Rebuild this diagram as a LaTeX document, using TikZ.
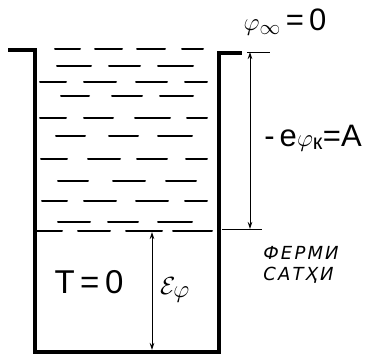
\documentclass[tikz,border=0pt]{standalone}
\usepackage{amsmath}
\usepackage{fontspec}
\setmainfont{Liberation Sans}
\newfontfamily\cyrfont[LetterSpace=12]{DejaVu Sans}
\usetikzlibrary{arrows.meta}
\tikzset{
  wall/.style={line width=4.5pt, line join=miter, line cap=butt},
  elec/.style={line width=2pt, line cap=round},
  tick/.style={line width=1pt},
  dim/.style={line width=0.9pt, {Stealth[length=7pt,width=4.5pt]}-{Stealth[length=7pt,width=4.5pt]}},
  lbl/.style={inner sep=0pt, font=\fontsize{31}{33}\selectfont},
}
\begin{document}
\begin{tikzpicture}[x=1pt,y=-1pt]
\useasboundingbox (0,0) rectangle (372,356);
% well
\coordinate (lipL) at (8,50);
\coordinate (wallTL) at (35,50);
\coordinate (wallBL) at (35,352);
\coordinate (wallBR) at (219,352);
\coordinate (wallTR) at (219,53);
\coordinate (lipR) at (242,53);
\draw[wall] (lipL) -- (wallTL) -- (wallBL) -- (wallBR) -- (wallTR) -- (lipR);
% electron dashes
\foreach \y/\segs in {
  49/{55/80,95/122,137/165,182/203},
  66/{57/91,109/140,158/193},
  82/{40/66,84/116,136/167,185/207},
  96/{61/89,112/142,160/193},
  118/{40/66,84/113,135/170,187/207},
  136/{56/85,109/138,158/192},
  159/{41/67,88/120,137/167,186/207},
  181/{58/88,113/145,166/196},
  201/{42/67,84/116,136/168,185/207},
  222/{58/90,108/138,158/192},
  231/{36/62,78/110,126/162,173/212}}{
  \foreach \a/\b in \segs { \draw[elec] (\a,\y) -- (\b,\y); }
}
% ticks
\coordinate (topA) at (247,52);
\coordinate (topB) at (270,52);
\coordinate (fA) at (222,229);
\coordinate (fB) at (262,229);
\draw[tick] (topA) -- (topB);
\draw[tick] (fA) -- (fB);
% dimension arrows
\coordinate (wTop) at (250,52);
\coordinate (wBot) at (250,229);
\coordinate (eTop) at (152,232);
\coordinate (eBot) at (152,350);
\draw[dim] (wTop) -- (wBot);
\draw[dim] (eTop) -- (eBot);
% labels
\node[lbl] (vac) at (285,22) {$\varphi_{\infty}$\,=\,0};
\node[lbl] (work) at (313,138) {-\,e$\varphi_{\text{к}}$=A};
\node[lbl, font=\fontsize{33}{35}\selectfont] (temp) at (89,282) {T\,=\,0};
\node[lbl, font=\fontsize{34}{36}\selectfont] (ef) at (175,290) {$\mathcal{E}_{\varphi}$};
\node[inner sep=0pt, font=\cyrfont\itshape\fontsize{18}{21}\selectfont, align=left] (fermi) at (301,265) {ФЕРМИ\\САТҲИ};
\end{tikzpicture}
\end{document}
